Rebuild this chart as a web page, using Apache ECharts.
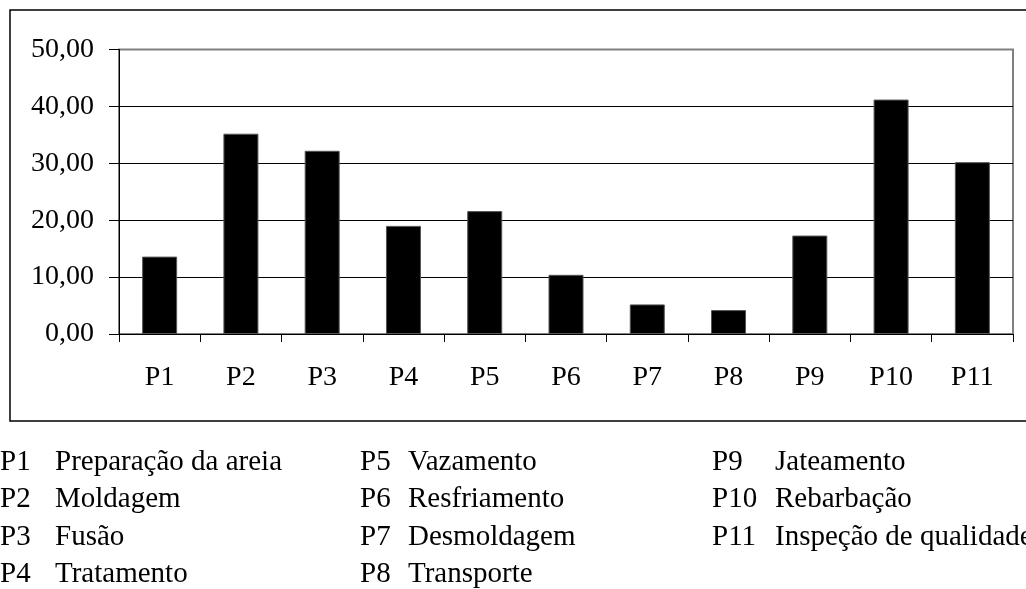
<!DOCTYPE html>
<html>
<head>
<meta charset="utf-8">
<script src="https://cdn.jsdelivr.net/npm/echarts@6/dist/echarts.min.js"></script>
<style>html,body{margin:0;padding:0;background:#fff;}#c{width:1026px;height:589px;}</style>
</head>
<body>
<div id="c"></div>
<script>
var categories = ['P1','P2','P3','P4','P5','P6','P7','P8','P9','P10','P11'];
var values = [13.6, 35.2, 32.2, 19.0, 21.6, 10.4, 5.2, 4.2, 17.3, 41.2, 30.2];
var descriptions = ['Preparação da areia','Moldagem','Fusão','Tratamento','Vazamento','Resfriamento','Desmoldagem','Transporte','Jateamento','Rebarbação','Inspeção de qualidade'];
var yTicks = [0, 10, 20, 30, 40, 50];

var FONT = '"Liberation Serif", "Times New Roman", serif';
var FS = 28, LFS = 29;
var chart = echarts.init(document.getElementById('c'), null, {renderer: 'canvas'});

var codeX = [0, 360, 712], descX = [55, 408, 775], rowY = [462, 499.5, 537, 574.5];
var legend = [];
categories.forEach(function (c, i) {
  var col = Math.floor(i / 4), row = i % 4;
  legend.push({type: 'text', style: {x: codeX[col], y: rowY[row], text: c, font: LFS + 'px ' + FONT, fill: '#000', verticalAlign: 'middle', align: 'left'}});
  legend.push({type: 'text', style: {x: descX[col], y: rowY[row], text: descriptions[i], font: LFS + 'px ' + FONT, fill: '#000', verticalAlign: 'middle', align: 'left'}});
});
legend.push({type: 'rect', shape: {x: 10, y: 10, width: 1030, height: 411}, style: {fill: 'none', stroke: '#000', lineWidth: 1.5}, z: -1});

chart.setOption({
  animation: false,
  backgroundColor: '#fff',
  grid: {left: 119, right: 13, top: 49.5, bottom: 255, show: true, borderColor: '#808080', borderWidth: 2, backgroundColor: 'transparent'},
  xAxis: {
    type: 'category', data: categories, boundaryGap: true,
    axisLine: {lineStyle: {color: '#000', width: 1}},
    axisTick: {show: true, length: 8, inside: false, lineStyle: {color: '#000'}},
    axisLabel: {margin: 30, color: '#000', fontSize: FS, fontFamily: FONT}
  },
  yAxis: {
    type: 'value', min: yTicks[0], max: yTicks[yTicks.length - 1], interval: yTicks[1] - yTicks[0],
    axisLine: {show: true, lineStyle: {color: '#000', width: 1}},
    axisTick: {show: true, length: 10, inside: false, lineStyle: {color: '#000'}},
    axisLabel: {margin: 25, color: '#000', fontSize: FS, fontFamily: FONT,
      formatter: function (v) { return v.toFixed(2).replace('.', ','); }},
    splitLine: {show: true, lineStyle: {color: ['#000', '#000', '#000', '#000', '#000', '#808080'], width: 1}}
  },
  series: [{
    type: 'bar', data: values, barWidth: 35,
    itemStyle: {color: '#000', borderColor: '#555', borderWidth: 1}
  }],
  graphic: legend
});
</script>
</body>
</html>
